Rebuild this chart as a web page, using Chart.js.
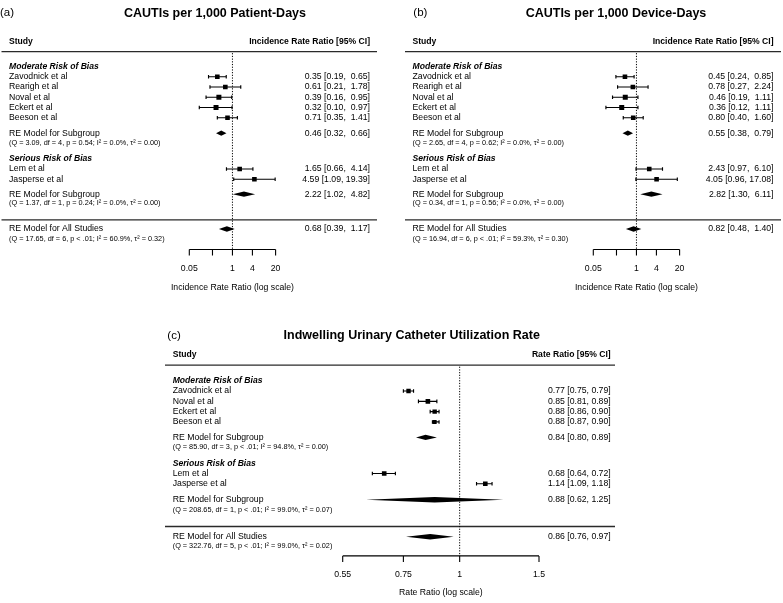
<!DOCTYPE html>
<html><head><meta charset="utf-8">
<title>Forest plots</title>
<script src="https://cdn.jsdelivr.net/npm/chart.js@4.4.1/dist/chart.umd.min.js"></script>
<style>
html,body{margin:0;padding:0;background:#ffffff;overflow:hidden;}
#wrap{position:relative;width:783px;height:603px;background:#fff;}
canvas{position:absolute;display:block;}
</style></head>
<body><div id="wrap">
<canvas id="pa" style="left:0px;top:0px"></canvas>
<canvas id="pb" style="left:404px;top:0px"></canvas>
<canvas id="pc" style="left:160px;top:300px"></canvas>
</div>
<script>
// ---------------- DATA ----------------
const groupLabels = ["Moderate Risk of Bias", "Serious Risk of Bias"];
const pooledLabels = ["RE Model for Subgroup", "RE Model for Subgroup", "RE Model for All Studies"];

// Panel (a)
const aPanel = "(a)";
const aTitle = "CAUTIs per 1,000 Patient-Days";
const aHeaderRight = "Incidence Rate Ratio [95% CI]";
const aAxisTitle = "Incidence Rate Ratio (log scale)";
const aModNames = ["Zavodnick et al", "Rearigh et al", "Noval et al", "Eckert et al", "Beeson et al"];
const aModEst = [0.35, 0.61, 0.39, 0.32, 0.71];
const aModLo  = [0.19, 0.21, 0.16, 0.10, 0.35];
const aModHi  = [0.65, 1.78, 0.95, 0.97, 1.41];
const aSerNames = ["Lem et al", "Jasperse et al"];
const aSerEst = [1.65, 4.59];
const aSerLo  = [0.66, 1.09];
const aSerHi  = [4.14, 19.39];
const aPooledEst = [0.46, 2.22, 0.68];
const aPooledLo  = [0.32, 1.02, 0.39];
const aPooledHi  = [0.66, 4.82, 1.17];
const aStats = [
  "(Q = 3.09, df = 4, p = 0.54; I\u00B2 = 0.0%, \u03C4\u00B2 = 0.00)",
  "(Q = 1.37, df = 1, p = 0.24; I\u00B2 = 0.0%, \u03C4\u00B2 = 0.00)",
  "(Q = 17.65, df = 6, p < .01; I\u00B2 = 60.9%, \u03C4\u00B2 = 0.32)"
];

// Panel (b)
const bPanel = "(b)";
const bTitle = "CAUTIs per 1,000 Device-Days";
const bHeaderRight = "Incidence Rate Ratio [95% CI]";
const bAxisTitle = "Incidence Rate Ratio (log scale)";
const bModNames = ["Zavodnick et al", "Rearigh et al", "Noval et al", "Eckert et al", "Beeson et al"];
const bModEst = [0.45, 0.78, 0.46, 0.36, 0.80];
const bModLo  = [0.24, 0.27, 0.19, 0.12, 0.40];
const bModHi  = [0.85, 2.24, 1.11, 1.11, 1.60];
const bSerNames = ["Lem et al", "Jasperse et al"];
const bSerEst = [2.43, 4.05];
const bSerLo  = [0.97, 0.96];
const bSerHi  = [6.10, 17.08];
const bPooledEst = [0.55, 2.82, 0.82];
const bPooledLo  = [0.38, 1.30, 0.48];
const bPooledHi  = [0.79, 6.11, 1.40];
const bStats = [
  "(Q = 2.65, df = 4, p = 0.62; I\u00B2 = 0.0%, \u03C4\u00B2 = 0.00)",
  "(Q = 0.34, df = 1, p = 0.56; I\u00B2 = 0.0%, \u03C4\u00B2 = 0.00)",
  "(Q = 16.94, df = 6, p < .01; I\u00B2 = 59.3%, \u03C4\u00B2 = 0.30)"
];

// Panel (c)
const cPanel = "(c)";
const cTitle = "Indwelling Urinary Catheter Utilization Rate";
const cHeaderRight = "Rate Ratio [95% CI]";
const cAxisTitle = "Rate Ratio (log scale)";
const cModNames = ["Zavodnick et al", "Noval et al", "Eckert et al", "Beeson et al"];
const cModEst = [0.77, 0.85, 0.88, 0.88];
const cModLo  = [0.75, 0.81, 0.86, 0.87];
const cModHi  = [0.79, 0.89, 0.90, 0.90];
const cSerNames = ["Lem et al", "Jasperse et al"];
const cSerEst = [0.68, 1.14];
const cSerLo  = [0.64, 1.09];
const cSerHi  = [0.72, 1.18];
const cPooledEst = [0.84, 0.88, 0.86];
const cPooledLo  = [0.80, 0.62, 0.76];
const cPooledHi  = [0.89, 1.25, 0.97];
const cStats = [
  "(Q = 85.90, df = 3, p < .01; I\u00B2 = 94.8%, \u03C4\u00B2 = 0.00)",
  "(Q = 208.65, df = 1, p < .01; I\u00B2 = 99.0%, \u03C4\u00B2 = 0.07)",
  "(Q = 322.76, df = 5, p < .01; I\u00B2 = 99.0%, \u03C4\u00B2 = 0.02)"
];

// Axis ticks
const abTickValues = [0.05, 0.25, 1, 4, 20];
const abTickLabels = ["0.05", "", "1", "4", "20"];
const cTickValues = [0.55, 0.75, 1, 1.5];
const cTickLabels = ["0.55", "0.75", "1", "1.5"];
const refValue = 1;

// ---------------- LAYOUT ----------------
const FONT = '"Liberation Sans", Arial, Helvetica, sans-serif';
const rowsAB = {title:-6.2, header:-3.4, hline:-2.45, modHdr:-1, modRE:5.5, modQ:6.5, serHdr:8,
  serRE:11.45, serQ:12.35, sep:13.95, all:14.85, allQ:15.8, axis:16.85, tickLab:18.7, axisTitle:20.6};
const rowsC = {title:-5.38, header:-3.51, hline:-2.51, modHdr:-1, modRE:4.5, modQ:5.41, serHdr:7,
  serRE:10.55, serQ:11.5, sep:13.15, all:14.14, allQ:15.05, axis:16.0, tickLab:17.8, axisTitle:19.55};
const baseStyle = {labelSize:11.5, titleSize:12.5, hdrSize:8.6, bodySize:8.7, statSize:7.3, tickSize:8.7,
  cap:1.8, diam:2.7, tickLen:6, ciWidth:1.15};
const layoutA = Object.assign({}, baseStyle, {w:380, h:300, row0:75, rowPx:10.5, axisX0:189.3, axisX1:275.6,
  textLeft:9, textRight:370, ruleX0:1.5, ruleX1:377, titleX:215, labelX:0, rows:rowsAB,
  modSide:[4.6,4.6,5,5,4.6], serSide:[4.6,4.6]});
const layoutB = Object.assign({}, baseStyle, {w:379, h:300, row0:75, rowPx:10.5, axisX0:189.3, axisX1:275.6,
  textLeft:8.5, textRight:369.5, ruleX0:1, ruleX1:377, titleX:212, labelX:9.3, rows:rowsAB,
  modSide:[4.6,4.6,5,5,4.6], serSide:[4.6,4.6]});
const layoutC = Object.assign({}, baseStyle, {w:470, h:303, row0:89.7, rowPx:10.53, axisX0:182.7, axisX1:379,
  textLeft:12.7, textRight:450.7, ruleX0:5, ruleX1:455, titleX:251.7, labelX:7.3, rows:rowsC,
  modSide:[4.4,4.6,4.4,4], serSide:[4.6,4.6]});

function pad(s, w) { while (s.length < w) s = ' ' + s; return s; }

function makeForest(id, D, L) {
  const canvas = document.getElementById(id);
  canvas.width = L.w; canvas.height = L.h;
  canvas.style.width = L.w + 'px'; canvas.style.height = L.h + 'px';
  const R = L.rows;
  const studies = [];
  D.modNames.forEach((n, i) => studies.push({name:n, est:D.modEst[i], lo:D.modLo[i], hi:D.modHi[i], row:i, side:L.modSide[i]}));
  D.serNames.forEach((n, i) => studies.push({name:n, est:D.serEst[i], lo:D.serLo[i], hi:D.serHi[i], row:R.serHdr + 1 + i, side:L.serSide[i]}));
  const pooledRows = [R.modRE, R.serRE, R.all];
  const statRows = [R.modQ, R.serQ, R.allQ];
  const pooled = D.pooledEst.map((e, i) => ({name:pooledLabels[i], est:e, lo:D.pooledLo[i], hi:D.pooledHi[i],
    row:pooledRows[i], stat:D.stats[i], statRow:statRows[i]}));
  const every = studies.concat(pooled);
  const wE = Math.max(...every.map(s => s.est.toFixed(2).length));
  const wL = Math.max(...every.map(s => s.lo.toFixed(2).length));
  const wH = Math.max(...every.map(s => s.hi.toFixed(2).length));
  const ciText = s => pad(s.est.toFixed(2), wE) + ' [' + pad(s.lo.toFixed(2), wL) + ', ' + pad(s.hi.toFixed(2), wH) + ']';
  const xMin = D.ticks[0], xMax = D.ticks[D.ticks.length - 1];
  const yMin = -L.row0 / L.rowPx, yMax = (L.h - L.row0) / L.rowPx;

  const plugin = {
    id: 'forest_' + id,
    beforeDatasetsDraw(chart) {
      const ctx = chart.ctx, x = chart.scales.x, y = chart.scales.y;
      ctx.save();
      ctx.strokeStyle = '#2a2a2a'; ctx.lineWidth = 1.3;
      [R.hline, R.sep].forEach(r => {
        const py = y.getPixelForValue(r);
        ctx.beginPath(); ctx.moveTo(L.ruleX0, py); ctx.lineTo(L.ruleX1, py); ctx.stroke();
      });
      const px1 = x.getPixelForValue(refValue);
      ctx.setLineDash([1.2, 1.5]); ctx.strokeStyle = '#000'; ctx.lineWidth = 1;
      ctx.beginPath(); ctx.moveTo(px1, y.getPixelForValue(R.hline) + 1.5); ctx.lineTo(px1, y.getPixelForValue(R.axis)); ctx.stroke();
      ctx.setLineDash([]);
      ctx.strokeStyle = '#000'; ctx.lineWidth = L.ciWidth;
      studies.forEach(s => {
        const py = y.getPixelForValue(s.row), a = x.getPixelForValue(s.lo), b = x.getPixelForValue(s.hi);
        ctx.beginPath(); ctx.moveTo(a, py); ctx.lineTo(b, py);
        ctx.moveTo(a, py - L.cap); ctx.lineTo(a, py + L.cap);
        ctx.moveTo(b, py - L.cap); ctx.lineTo(b, py + L.cap);
        ctx.stroke();
      });
      ctx.fillStyle = '#000';
      pooled.forEach(s => {
        const py = y.getPixelForValue(s.row);
        ctx.beginPath();
        ctx.moveTo(x.getPixelForValue(s.lo), py);
        ctx.lineTo(x.getPixelForValue(s.est), py - L.diam);
        ctx.lineTo(x.getPixelForValue(s.hi), py);
        ctx.lineTo(x.getPixelForValue(s.est), py + L.diam);
        ctx.closePath(); ctx.fill();
      });
      ctx.lineWidth = 1.1;
      const pa = y.getPixelForValue(R.axis);
      ctx.beginPath(); ctx.moveTo(x.getPixelForValue(xMin), pa); ctx.lineTo(x.getPixelForValue(xMax), pa);
      D.ticks.forEach(t => { const px = x.getPixelForValue(t); ctx.moveTo(px, pa); ctx.lineTo(px, pa + L.tickLen); });
      ctx.stroke();
      ctx.restore();
    },
    afterDraw(chart) {
      const ctx = chart.ctx, x = chart.scales.x, y = chart.scales.y;
      ctx.save();
      ctx.fillStyle = '#000'; ctx.textBaseline = 'middle';
      ctx.font = L.labelSize + 'px ' + FONT; ctx.textAlign = 'left';
      ctx.fillText(D.panel, L.labelX, y.getPixelForValue(R.title));
      ctx.font = 'bold ' + L.titleSize + 'px ' + FONT; ctx.textAlign = 'center';
      ctx.fillText(D.title, L.titleX, y.getPixelForValue(R.title));
      ctx.font = 'bold ' + L.hdrSize + 'px ' + FONT;
      ctx.textAlign = 'left'; ctx.fillText('Study', L.textLeft, y.getPixelForValue(R.header));
      ctx.textAlign = 'right'; ctx.fillText(D.headerRight, L.textRight, y.getPixelForValue(R.header));
      ctx.font = 'italic bold ' + L.hdrSize + 'px ' + FONT; ctx.textAlign = 'left';
      ctx.fillText(groupLabels[0], L.textLeft, y.getPixelForValue(R.modHdr));
      ctx.fillText(groupLabels[1], L.textLeft, y.getPixelForValue(R.serHdr));
      ctx.font = L.bodySize + 'px ' + FONT;
      every.forEach(s => {
        const py = y.getPixelForValue(s.row);
        ctx.textAlign = 'left'; ctx.fillText(s.name, L.textLeft, py);
        ctx.textAlign = 'right'; ctx.fillText(ciText(s), L.textRight, py);
      });
      ctx.font = L.statSize + 'px ' + FONT; ctx.textAlign = 'left';
      pooled.forEach(s => ctx.fillText(s.stat, L.textLeft, y.getPixelForValue(s.statRow)));
      ctx.font = L.tickSize + 'px ' + FONT; ctx.textAlign = 'center';
      D.ticks.forEach((t, i) => ctx.fillText(D.tickLabels[i], x.getPixelForValue(t), y.getPixelForValue(R.tickLab)));
      const mid = (x.getPixelForValue(xMin) + x.getPixelForValue(xMax)) / 2;
      ctx.fillText(D.axisTitle, mid, y.getPixelForValue(R.axisTitle));
      ctx.restore();
    }
  };

  return new Chart(canvas, {
    type: 'scatter',
    data: { datasets: [{
      data: studies.map(s => ({x: s.est, y: s.row})),
      pointStyle: 'rect',
      pointRadius: studies.map(s => s.side / Math.SQRT2),
      pointHoverRadius: studies.map(s => s.side / Math.SQRT2),
      backgroundColor: '#000', borderColor: '#000', borderWidth: 0
    }]},
    options: {
      responsive: false, animation: false, devicePixelRatio: 1,
      layout: { padding: { left: L.axisX0, right: L.w - L.axisX1, top: 0, bottom: 0 } },
      plugins: { legend: {display: false}, tooltip: {enabled: false}, title: {display: false} },
      scales: {
        x: { type: 'logarithmic', min: xMin, max: xMax, display: false },
        y: { type: 'linear', min: yMin, max: yMax, reverse: true, display: false }
      }
    },
    plugins: [plugin]
  });
}

makeForest('pa', {panel:aPanel, title:aTitle, headerRight:aHeaderRight, axisTitle:aAxisTitle,
  modNames:aModNames, modEst:aModEst, modLo:aModLo, modHi:aModHi,
  serNames:aSerNames, serEst:aSerEst, serLo:aSerLo, serHi:aSerHi,
  pooledEst:aPooledEst, pooledLo:aPooledLo, pooledHi:aPooledHi, stats:aStats,
  ticks:abTickValues, tickLabels:abTickLabels}, layoutA);
makeForest('pb', {panel:bPanel, title:bTitle, headerRight:bHeaderRight, axisTitle:bAxisTitle,
  modNames:bModNames, modEst:bModEst, modLo:bModLo, modHi:bModHi,
  serNames:bSerNames, serEst:bSerEst, serLo:bSerLo, serHi:bSerHi,
  pooledEst:bPooledEst, pooledLo:bPooledLo, pooledHi:bPooledHi, stats:bStats,
  ticks:abTickValues, tickLabels:abTickLabels}, layoutB);
makeForest('pc', {panel:cPanel, title:cTitle, headerRight:cHeaderRight, axisTitle:cAxisTitle,
  modNames:cModNames, modEst:cModEst, modLo:cModLo, modHi:cModHi,
  serNames:cSerNames, serEst:cSerEst, serLo:cSerLo, serHi:cSerHi,
  pooledEst:cPooledEst, pooledLo:cPooledLo, pooledHi:cPooledHi, stats:cStats,
  ticks:cTickValues, tickLabels:cTickLabels}, layoutC);
</script>
</body></html>
